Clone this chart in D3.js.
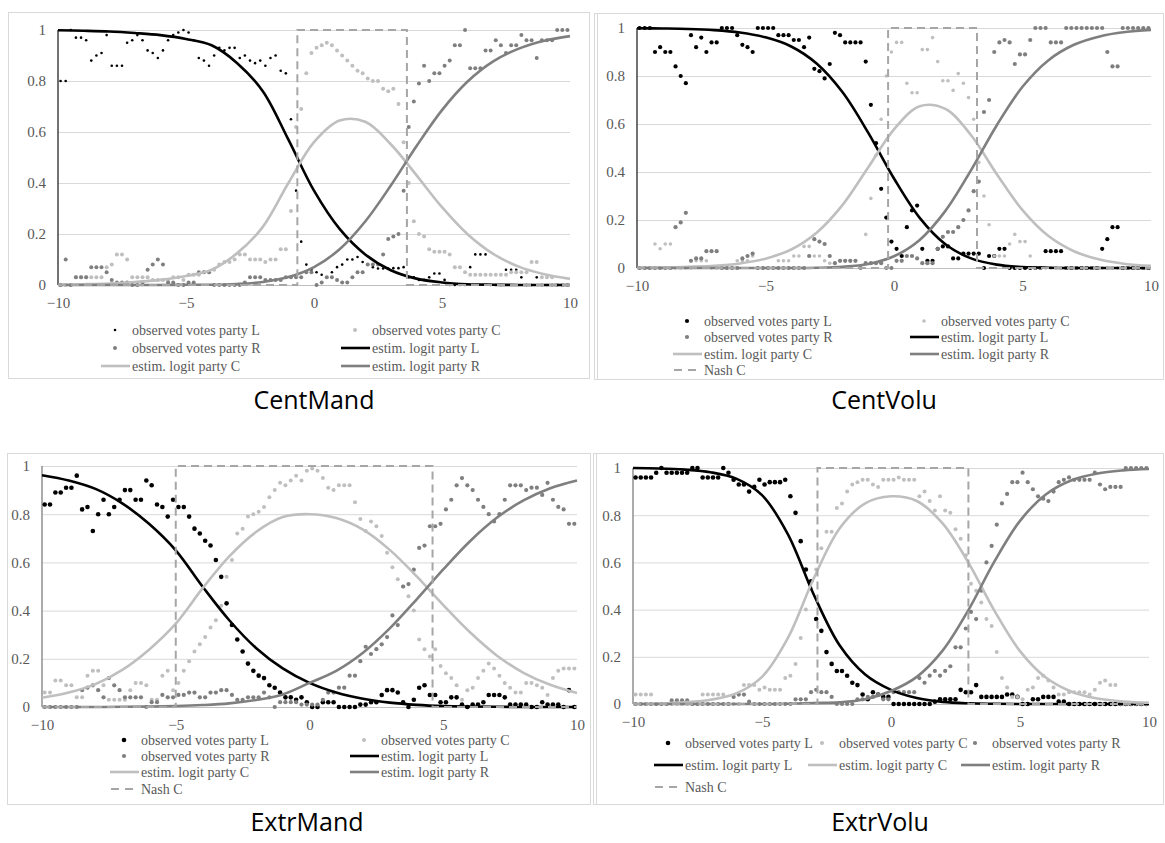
<!DOCTYPE html>
<html>
<head>
<meta charset="utf-8">
<script src="https://cdn.jsdelivr.net/npm/d3@7"></script>
<style>
  body { margin: 0; background: #fff; }
</style>
</head>
<body>
<svg id="chart" width="1165" height="843"></svg>
<script>
// x of the observed points (one every 0.2) and of the estimated curves
var obsX = d3.range(100).map(i => -9.9 + 0.2 * i);
var curveX = [-10, -9, -8, -7, -6, -5, -4, -3, -2, -1, 0, 1, 2, 3, 4, 5, 6, 7, 8, 9, 10];
var xTicks = [-10, -5, 0, 5, 10];
var yTicks = [0, 0.2, 0.4, 0.6, 0.8, 1];
var legendText = {
  oL: "observed votes party L", oC: "observed votes party C", oR: "observed votes party R",
  eL: "estim. logit party L", eC: "estim. logit party C", eR: "estim. logit party R",
  nash: "Nash C"
};

// ---- CentMand
var cmObsL = [0.80, 0.80, 1.00, 0.97, 0.97, 0.96, 0.88, 0.90, 0.91, 0.98,
  0.86, 0.86, 0.86, 0.95, 0.96, 0.98, 0.96, 0.92, 0.91, 0.89,
  0.92, 0.96, 0.98, 0.99, 1.00, 0.99, 0.96, 0.89, 0.88, 0.86,
  0.90, 0.93, 0.92, 0.93, 0.93, 0.89, 0.90, 0.88, 0.87, 0.88,
  0.86, 0.89, 0.90, 0.84, 0.83, 0.65, 0.37, 0.17, 0.08, 0.06,
  0.05, 0.04, 0.03, 0.05, 0.07, 0.08, 0.10, 0.10, 0.11, 0.09,
  0.08, 0.07, 0.065, 0.065, 0.065, 0.066, 0.066, 0.07, 0.03, 0.03,
  0.02, 0.02, 0.03, 0.045, 0.045, 0.02, 0, 0, 0, 0,
  0.07, 0.12, 0.12, 0.12, 0, 0, 0, 0.06, 0.06, 0.06,
  0.03, 0, 0, 0.03, 0, 0, 0, 0, 0, 0];
var cmObsC = [0, 0, 0, 0.03, 0.03, 0.03, 0.03, 0.03, 0.03, 0.07,
  0.08, 0.12, 0.12, 0.10, 0.03, 0.03, 0.03, 0.03, 0.02, 0.02,
  0.02, 0.02, 0.03, 0.03, 0.02, 0.04, 0.04, 0.04, 0.05, 0.05,
  0.06, 0.08, 0.09, 0.09, 0.10, 0.12, 0.12, 0.10, 0.10, 0.10,
  0.09, 0.10, 0.10, 0.14, 0.14, 0.29, 0.62, 0.69, 0.83, 0.91,
  0.93, 0.94, 0.95, 0.94, 0.92, 0.90, 0.88, 0.86, 0.84, 0.83,
  0.81, 0.80, 0.80, 0.77, 0.76, 0.77, 0.71, 0.56, 0.40, 0.25,
  0.20, 0.19, 0.14, 0.13, 0.13, 0.13, 0.12, 0.07, 0.07, 0.05,
  0.04, 0.04, 0.04, 0.04, 0.04, 0.04, 0.04, 0.04, 0.05, 0.05,
  0.05, 0.05, 0.09, 0.09, 0.03, 0.03, 0.03, 0, 0, 0];
var cmObsR = [0, 0.10, 0, 0.03, 0.03, 0.03, 0.07, 0.07, 0.07, 0.05,
  0.02, 0.01, 0.01, 0.01, 0, 0, 0.01, 0.06, 0.08, 0.10,
  0.08, 0.01, 0.01, 0, 0, 0.01, 0.01, 0.05, 0.05, 0.05,
  0, 0, 0, 0, 0, 0, 0.01, 0.03, 0.03, 0.03,
  0.02, 0.02, 0.02, 0.02, 0.03, 0.03, 0.03, 0.03, 0.05, 0.05,
  0, 0.01, 0.03, 0.03, 0.02, 0.01, 0.01, 0.03, 0.05, 0.05,
  0.08, 0.08, 0.08, 0.12, 0.18, 0.19, 0.20, 0.37, 0.62, 0.72,
  0.79, 0.86, 0.80, 0.83, 0.83, 0.86, 0.88, 0.94, 0.94, 1.00,
  0.85, 0.85, 0.85, 0.92, 0.92, 0.96, 0.94, 0.91, 0.94, 0.94,
  0.98, 0.96, 0.96, 0.89, 0.96, 0.96, 0.96, 1.00, 1.00, 1.00];
var cmEstL = [0.999, 0.997, 0.994, 0.988, 0.98, 0.965, 0.94, 0.87, 0.76, 0.57, 0.37, 0.22, 0.12, 0.058, 0.025, 0.01, 0.003, 0.001, 0, 0, 0];
var cmEstC = [0.001, 0.003, 0.006, 0.012, 0.02, 0.035, 0.06, 0.125, 0.228, 0.40, 0.56, 0.645, 0.64, 0.552, 0.431, 0.305, 0.199, 0.122, 0.072, 0.042, 0.024];
var cmEstR = [0, 0, 0, 0, 0, 0.001, 0.001, 0.004, 0.012, 0.031, 0.070, 0.140, 0.249, 0.390, 0.544, 0.686, 0.798, 0.877, 0.927, 0.958, 0.976];
var cmNash = [-0.65, 3.63];

// ---- CentVolu
var cvObsL = [1.00, 1.00, 1.00, 0.90, 0.92, 0.90, 0.90, 0.84, 0.80, 0.77,
  0.97, 0.92, 0.96, 0.90, 0.94, 0.94, 1.00, 1.00, 1.00, 0.97,
  0.93, 0.92, 0.90, 1.00, 1.00, 1.00, 1.00, 0.97, 0.97, 0.97,
  0.95, 0.95, 0.92, 0.96, 0.83, 0.82, 0.79, 0.85, 0.98, 0.97,
  0.94, 0.94, 0.94, 0.94, 0.86, 0.68, 0.52, 0.33, 0.21, 0.11,
  0.08, 0.05, 0.17, 0.24, 0.26, 0.08, 0.03, 0.03, 0.08, 0.09,
  0.09, 0.04, 0.04, 0.06, 0.06, 0.06, 0.06, 0, 0.05, 0.05,
  0.08, 0.08, 0, 0, 0, 0, 0, 0, 0, 0.07,
  0.07, 0.07, 0.07, 0, 0, 0, 0, 0, 0, 0,
  0.08, 0.12, 0.17, 0.17, 0, 0, 0, 0, 0, 0];
var cvObsC = [0, 0, 0, 0.10, 0.08, 0.10, 0.10, 0, 0, 0,
  0, 0.03, 0.03, 0.03, 0, 0, 0, 0, 0, 0.03,
  0.03, 0.03, 0.05, 0, 0, 0, 0, 0.03, 0.03, 0.03,
  0.05, 0.05, 0.09, 0.09, 0.05, 0.05, 0.03, 0.02, 0.02, 0.03,
  0.03, 0.03, 0.03, 0, 0.14, 0.29, 0.47, 0.62, 0.80, 0.90,
  0.94, 0.94, 0.77, 0.73, 0.73, 0.91, 0.91, 0.96, 0.86, 0.78,
  0.78, 0.74, 0.81, 0.77, 0.71, 0.62, 0.44, 0.30, 0.18, 0.05,
  0.05, 0.05, 0.10, 0.14, 0.11, 0.11, 0.05, 0, 0, 0,
  0, 0, 0, 0, 0, 0, 0, 0, 0, 0,
  0, 0, 0, 0, 0, 0, 0, 0, 0, 0];
var cvObsR = [0, 0, 0, 0, 0, 0, 0, 0.17, 0.19, 0.23,
  0.03, 0.04, 0.04, 0.07, 0.07, 0.07, 0, 0, 0, 0,
  0.04, 0.05, 0.06, 0, 0, 0, 0, 0, 0, 0,
  0, 0, 0, 0.05, 0.12, 0.11, 0.10, 0.05, 0.02, 0.03,
  0.03, 0.03, 0.03, 0, 0.02, 0.02, 0.02, 0.02, 0, 0,
  0.03, 0.03, 0.05, 0.05, 0.04, 0.02, 0.02, 0.02, 0.08, 0.13,
  0.15, 0.15, 0.17, 0.20, 0.24, 0.32, 0.36, 0.65, 0.70, 0.90,
  0.94, 0.95, 0.94, 0.85, 0.89, 0.89, 0.95, 1.00, 1.00, 1.00,
  0.94, 0.94, 0.94, 1.00, 1.00, 1.00, 1.00, 1.00, 1.00, 1.00,
  1.00, 0.90, 0.84, 0.84, 1.00, 1.00, 1.00, 1.00, 1.00, 1.00];
var cvEstL = [0.999, 0.998, 0.996, 0.991, 0.981, 0.961, 0.923, 0.851, 0.732, 0.563, 0.373, 0.209, 0.099, 0.040, 0.014, 0.004, 0.001, 0, 0, 0, 0];
var cvEstC = [0.001, 0.002, 0.005, 0.009, 0.019, 0.039, 0.077, 0.148, 0.263, 0.420, 0.578, 0.674, 0.663, 0.553, 0.391, 0.241, 0.134, 0.070, 0.035, 0.017, 0.009];
var cvEstR = [0, 0, 0, 0, 0, 0, 0, 0.001, 0.005, 0.017, 0.049, 0.117, 0.238, 0.408, 0.595, 0.755, 0.865, 0.930, 0.965, 0.983, 0.992];
var cvNash = [-0.23, 3.23];

// ---- ExtrMand
var emObsL = [0.84, 0.84, 0.89, 0.89, 0.91, 0.91, 0.96, 0.82, 0.83, 0.73,
  0.80, 0.86, 0.80, 0.83, 0.86, 0.90, 0.90, 0.86, 0.86, 0.94,
  0.92, 0.84, 0.83, 0.79, 0.86, 0.83, 0.83, 0.79, 0.74, 0.72,
  0.69, 0.67, 0.61, 0.54, 0.43, 0.34, 0.28, 0.23, 0.18, 0.15,
  0.13, 0.12, 0.09, 0.08, 0.06, 0.04, 0.04, 0.03, 0.04, 0.02,
  0, 0, 0.02, 0.02, 0.02, 0, 0, 0, 0, 0.01,
  0.01, 0.02, 0.02, 0.05, 0.07, 0.07, 0.06, 0.02, 0, 0.03,
  0.08, 0.09, 0.05, 0.05, 0.02, 0.02, 0.04, 0.04, 0.01, 0,
  0.01, 0.01, 0.02, 0.05, 0.05, 0.05, 0.04, 0.01, 0.01, 0.01,
  0.01, 0, 0, 0.02, 0.01, 0.01, 0.01, 0, 0.07, 0];
var emObsC = [0.06, 0.06, 0.11, 0.11, 0.09, 0.09, 0.04, 0.04, 0.13, 0.15,
  0.15, 0.09, 0.03, 0.03, 0.03, 0.03, 0.07, 0.10, 0.10, 0.09,
  0.03, 0.03, 0.13, 0.15, 0.07, 0.10, 0.15, 0.19, 0.23, 0.26,
  0.29, 0.33, 0.36, 0.42, 0.54, 0.61, 0.72, 0.74, 0.79, 0.80,
  0.81, 0.83, 0.87, 0.90, 0.93, 0.92, 0.94, 0.96, 0.94, 0.98,
  0.99, 0.98, 0.95, 0.91, 0.90, 0.92, 0.92, 0.92, 0.85, 0.78,
  0.73, 0.77, 0.75, 0.71, 0.64, 0.58, 0.53, 0.50, 0.46, 0.40,
  0.28, 0.24, 0.21, 0.24, 0.17, 0.14, 0.12, 0.09, 0.03, 0.07,
  0.08, 0.12, 0.15, 0.18, 0.16, 0.13, 0.10, 0.08, 0.06, 0.06,
  0.10, 0.10, 0.09, 0.08, 0.05, 0.12, 0.15, 0.16, 0.16, 0.16];
var emObsR = [0, 0, 0, 0, 0, 0, 0, 0.07, 0.08, 0.09,
  0.07, 0.04, 0.12, 0.09, 0.07, 0.04, 0.04, 0.04, 0.04, 0,
  0.02, 0.02, 0.05, 0.04, 0.04, 0.05, 0.05, 0.06, 0.06, 0.04,
  0.04, 0.06, 0.06, 0.07, 0.07, 0.05, 0.03, 0.03, 0.04, 0.04,
  0.04, 0.06, 0.04, 0, 0.02, 0.02, 0.02, 0.02, 0.01, 0.01,
  0.01, 0.01, 0.03, 0.06, 0.06, 0.08, 0.08, 0.13, 0.13, 0.19,
  0.25, 0.22, 0.24, 0.26, 0.29, 0.38, 0.34, 0.50, 0.51, 0.57,
  0.66, 0.67, 0.75, 0.75, 0.76, 0.82, 0.86, 0.92, 0.95, 0.92,
  0.90, 0.86, 0.83, 0.80, 0.77, 0.80, 0.86, 0.92, 0.92, 0.92,
  0.90, 0.91, 0.91, 0.88, 0.93, 0.86, 0.83, 0.82, 0.76, 0.76];
var emEstL = [0.962, 0.940, 0.905, 0.845, 0.760, 0.650, 0.500, 0.360, 0.245, 0.160, 0.100, 0.060, 0.034, 0.018, 0.009, 0.004, 0.002, 0.001, 0, 0, 0];
var emEstC = [0.038, 0.060, 0.095, 0.154, 0.238, 0.346, 0.492, 0.625, 0.726, 0.788, 0.800, 0.784, 0.736, 0.652, 0.543, 0.423, 0.310, 0.214, 0.142, 0.092, 0.058];
var emEstR = [0, 0, 0, 0.001, 0.002, 0.004, 0.008, 0.015, 0.029, 0.052, 0.100, 0.150, 0.225, 0.326, 0.446, 0.571, 0.688, 0.785, 0.857, 0.908, 0.940];
var emNash = [-5.0, 4.6];

// ---- ExtrVolu
var evObsL = [0.96, 0.96, 0.96, 0.96, 0.98, 1.00, 0.98, 0.98, 0.98, 0.98,
  0.98, 1.00, 1.00, 0.96, 0.96, 0.96, 0.96, 1.00, 0.98, 0.95,
  0.93, 0.93, 0.90, 0.92, 0.95, 0.93, 0.94, 0.94, 0.94, 0.95,
  0.88, 0.81, 0.69, 0.57, 0.52, 0.36, 0.31, 0.22, 0.17, 0.14,
  0.14, 0.12, 0.09, 0.08, 0.04, 0.02, 0.05, 0.04, 0.03, 0.03,
  0, 0, 0, 0, 0, 0, 0, 0, 0.01, 0.02,
  0.02, 0.02, 0.02, 0.06, 0.05, 0.05, 0.08, 0.03, 0.03, 0.03,
  0.03, 0.03, 0.04, 0.04, 0.03, 0, 0, 0.02, 0.02, 0.03,
  0.03, 0.03, 0.01, 0.01, 0, 0, 0, 0, 0, 0,
  0, 0, 0, 0, 0, 0, 0, 0, 0, 0];
var evObsC = [0.04, 0.04, 0.04, 0.04, 0, 0, 0, 0, 0, 0,
  0, 0, 0, 0.04, 0.04, 0.04, 0.04, 0.04, 0, 0,
  0, 0.08, 0.08, 0.08, 0.06, 0.07, 0.06, 0.06, 0.06, 0.11,
  0.12, 0.17, 0.28, 0.40, 0.49, 0.57, 0.66, 0.73, 0.73, 0.83,
  0.85, 0.90, 0.93, 0.94, 0.95, 0.95, 0.93, 0.92, 0.95, 0.95,
  0.95, 0.96, 0.95, 0.95, 0.95, 0.88, 0.90, 0.86, 0.82, 0.88,
  0.82, 0.81, 0.74, 0.70, 0.63, 0.51, 0.48, 0.43, 0.36, 0.33,
  0.22, 0.11, 0.07, 0.03, 0.03, 0.02, 0.06, 0.07, 0.11, 0.12,
  0.10, 0.07, 0.04, 0.04, 0.05, 0.05, 0.05, 0.05, 0.04, 0.06,
  0.09, 0.10, 0.08, 0.08, 0, 0, 0, 0, 0, 0];
var evObsR = [0, 0, 0, 0, 0, 0, 0, 0.015, 0.015, 0.015,
  0.015, 0, 0, 0, 0, 0, 0, 0, 0, 0.03,
  0.04, 0.04, 0.01, 0, 0, 0, 0, 0, 0, 0,
  0, 0.02, 0.02, 0.02, 0.05, 0.06, 0.05, 0.05, 0.03, 0,
  0, 0, 0, 0.02, 0.02, 0.03, 0.03, 0.04, 0.02, 0.02,
  0.05, 0.05, 0.05, 0.05, 0.05, 0.11, 0.09, 0.12, 0.14, 0.12,
  0.14, 0.16, 0.24, 0.24, 0.32, 0.39, 0.36, 0.48, 0.60, 0.67,
  0.76, 0.85, 0.89, 0.94, 0.94, 0.98, 0.94, 0.91, 0.88, 0.87,
  0.86, 0.90, 0.94, 0.95, 0.96, 0.95, 0.95, 0.95, 0.95, 0.98,
  0.93, 0.91, 0.92, 0.92, 0.92, 1.00, 1.00, 1.00, 1.00, 1.00];
var evEstL = [1.0, 0.998, 0.993, 0.982, 0.955, 0.885, 0.72, 0.465, 0.25, 0.125, 0.06, 0.025, 0.009, 0.003, 0.001, 0, 0, 0, 0, 0, 0];
var evEstC = [0, 0.002, 0.007, 0.018, 0.045, 0.115, 0.279, 0.531, 0.743, 0.85, 0.88, 0.86, 0.765, 0.599, 0.397, 0.224, 0.112, 0.052, 0.023, 0.010, 0.005];
var evEstR = [0, 0, 0, 0, 0, 0, 0.001, 0.004, 0.007, 0.020, 0.055, 0.115, 0.226, 0.398, 0.602, 0.776, 0.888, 0.948, 0.977, 0.990, 0.996];
var evNash = [-2.85, 3.0];

var colL = "#000000", colC = "#bfbfbf", colR = "#7f7f7f", colNash = "#a6a6a6";
var serif = "'Liberation Serif', 'Times New Roman', serif";

var panels = [
  { title: "CentMand", box: [8, 12, 589, 378], dbl: false,
    plot: [58, 570, 30, 285], axisCol: "#262626",
    obs: [cmObsL, cmObsC, cmObsR], est: [cmEstL, cmEstC, cmEstR], nash: cmNash,
    rad: [1.3, 2, 2], titleXY: [314, 400],
    legend: { cols: [115, 355], rows: [330, 348, 366],
      items: [["oL", 0, 0], ["oC", 1, 0], ["oR", 0, 1], ["eL", 1, 1], ["eC", 0, 2], ["eR", 1, 2]] } },
  { title: "CentVolu", box: [594, 13, 1163, 379], dbl: true,
    plot: [637, 1151, 28, 268], axisCol: "#262626",
    obs: [cvObsL, cvObsC, cvObsR], est: [cvEstL, cvEstC, cvEstR], nash: cvNash,
    rad: [2.1, 1.8, 2.1], titleXY: [884, 400],
    legend: { cols: [687, 924], rows: [321, 337, 354, 370],
      items: [["oL", 0, 0], ["oC", 1, 0], ["oR", 0, 1], ["eL", 1, 1], ["eC", 0, 2], ["eR", 1, 2], ["nash", 0, 3]] } },
  { title: "ExtrMand", box: [7, 453, 590, 804], dbl: false,
    plot: [42, 577, 466, 707], axisCol: "#7f7f7f",
    obs: [emObsL, emObsC, emObsR], est: [emEstL, emEstC, emEstR], nash: emNash,
    rad: [2.3, 2, 2.1], titleXY: [307, 822],
    legend: { cols: [124, 364], rows: [740, 756, 772, 789],
      items: [["oL", 0, 0], ["oC", 1, 0], ["oR", 0, 1], ["eL", 1, 1], ["eC", 0, 2], ["eR", 1, 2], ["nash", 0, 3]] } },
  { title: "ExtrVolu", box: [593, 453, 1163, 804], dbl: true,
    plot: [633, 1149, 468, 704], axisCol: "#7f7f7f",
    obs: [evObsL, evObsC, evObsR], est: [evEstL, evEstC, evEstR], nash: evNash,
    rad: [2.3, 2, 2.1], titleXY: [880, 822],
    legend: { cols: [668, 822, 975], rows: [743, 765, 787],
      items: [["oL", 0, 0], ["oC", 1, 0], ["oR", 2, 0], ["eL", 0, 1], ["eC", 1, 1], ["eR", 2, 1], ["nash", 0, 2]] } }
];

var svg = d3.select("#chart");
var seriesCol = [colL, colC, colR];

function drawPanel(p) {
  var g = svg.append("g");
  var b = p.box;
  g.append("rect").attr("x", b[0] + 0.5).attr("y", b[1] + 0.5)
    .attr("width", b[2] - b[0]).attr("height", b[3] - b[1])
    .attr("fill", "none").attr("stroke", "#d9d9d9");
  if (p.dbl) {
    g.append("line").attr("x1", b[0] + 3.5).attr("x2", b[0] + 3.5)
      .attr("y1", b[1]).attr("y2", b[3]).attr("stroke", "#d9d9d9");
  }

  var x = d3.scaleLinear().domain([-10, 10]).range([p.plot[0], p.plot[1]]);
  var y = d3.scaleLinear().domain([0, 1]).range([p.plot[3], p.plot[2]]);

  // gridlines
  g.append("g").attr("transform", "translate(" + p.plot[0] + ",0)")
    .call(d3.axisLeft(y).tickValues(yTicks).tickSize(-(p.plot[1] - p.plot[0])).tickFormat(""))
    .call(a => a.select(".domain").remove())
    .call(a => a.selectAll("line").attr("stroke", d => d === 0 ? "#bfbfbf" : "#d9d9d9"));

  // y labels
  g.append("g").attr("transform", "translate(" + p.plot[0] + ",0)")
    .call(d3.axisLeft(y).tickValues(yTicks).tickSize(0).tickPadding(12).tickFormat(d3.format("~g")))
    .call(a => a.select(".domain").remove())
    .call(a => a.selectAll("text").attr("fill", "#595959").attr("font-size", 15)
      .style("font-family", serif));

  // x labels
  g.append("g").attr("transform", "translate(0," + p.plot[3] + ")")
    .call(d3.axisBottom(x).tickValues(xTicks).tickSize(0).tickPadding(12).tickFormat(d3.format("d")))
    .call(a => a.select(".domain").remove())
    .call(a => a.selectAll("text").attr("fill", "#595959").attr("font-size", 15)
      .style("font-family", serif));

  // vertical axis line
  g.append("line").attr("x1", x(-10)).attr("x2", x(-10)).attr("y1", y(0)).attr("y2", y(1))
    .attr("stroke", p.axisCol).attr("stroke-width", 1.3);

  // observed votes
  p.obs.forEach(function(vals, k) {
    g.append("g").selectAll("circle")
      .data(vals.map((v, i) => [obsX[i], v]))
      .join("circle")
      .attr("cx", d => x(d[0])).attr("cy", d => y(d[1]))
      .attr("r", p.rad[k]).attr("fill", seriesCol[k]);
  });

  // estimated logit curves
  var line = d3.line().x(d => x(d[0])).y(d => y(d[1])).curve(d3.curveCatmullRom);
  p.est.forEach(function(vals, k) {
    g.append("path").datum(vals.map((v, i) => [curveX[i], v]))
      .attr("d", line).attr("fill", "none")
      .attr("stroke", seriesCol[k]).attr("stroke-width", 2.6);
  });

  // Nash C step
  var n = p.nash;
  var nashPts = [[-10, 0], [n[0], 0], [n[0], 1], [n[1], 1], [n[1], 0], [10, 0]];
  g.append("path").datum(nashPts)
    .attr("d", d3.line().x(d => x(d[0])).y(d => y(d[1])))
    .attr("fill", "none").attr("stroke", colNash).attr("stroke-width", 2)
    .attr("stroke-dasharray", "8,5");

  // legend
  var lg = g.append("g");
  p.legend.items.forEach(function(it) {
    var key = it[0], cx = p.legend.cols[it[1]], cy = p.legend.rows[it[2]];
    if (key[0] === "o") {
      var k = "LCR".indexOf(key[1]);
      lg.append("circle").attr("cx", cx).attr("cy", cy).attr("r", p.rad[k]).attr("fill", seriesCol[k]);
    } else if (key[0] === "e") {
      var k2 = "LCR".indexOf(key[1]);
      lg.append("line").attr("x1", cx - 14).attr("x2", cx + 15).attr("y1", cy).attr("y2", cy)
        .attr("stroke", seriesCol[k2]).attr("stroke-width", 2.6);
    } else {
      lg.append("line").attr("x1", cx - 13).attr("x2", cx + 13).attr("y1", cy).attr("y2", cy)
        .attr("stroke", colNash).attr("stroke-width", 2).attr("stroke-dasharray", "8,6");
    }
    lg.append("text").attr("x", cx + 17).attr("y", cy).attr("dy", "0.35em")
      .attr("font-size", 14).attr("fill", "#595959").style("font-family", serif)
      .text(legendText[key]);
  });

  // panel caption
  svg.append("text").attr("x", p.titleXY[0]).attr("y", p.titleXY[1]).attr("dy", "0.35em")
    .attr("text-anchor", "middle").attr("font-size", 25)
    .style("font-family", "'Open Sans', sans-serif").attr("fill", "#000").text(p.title);
}

panels.forEach(drawPanel);
</script>
</body>
</html>
